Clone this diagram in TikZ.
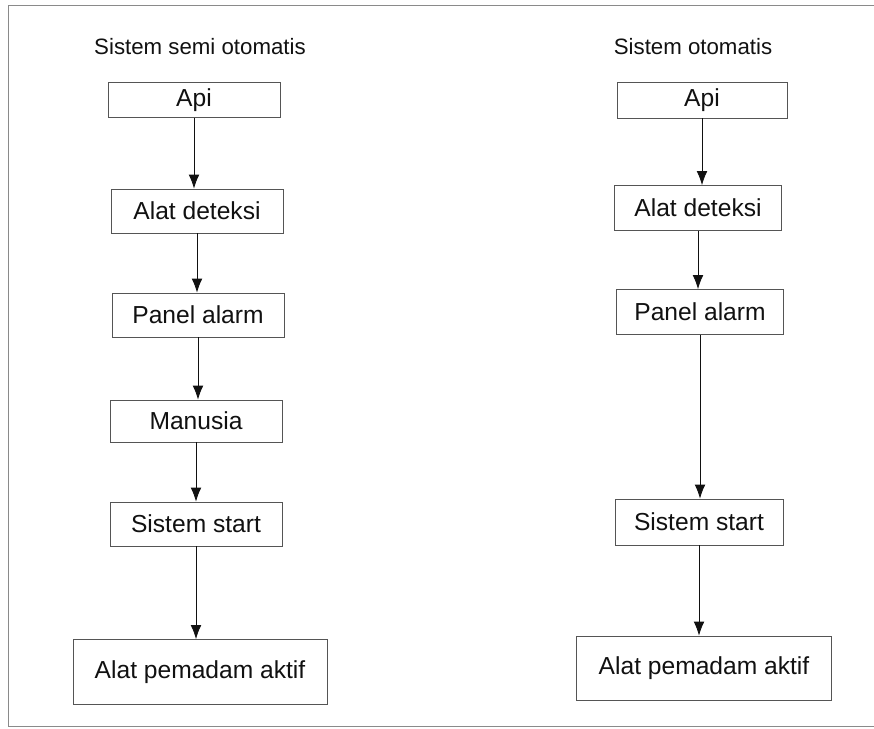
\documentclass[tikz,border=0pt]{standalone}
\usepackage{fontspec}
\setmainfont{Liberation Sans}
\usepackage{tikz}
\usetikzlibrary{arrows.meta,positioning}
\definecolor{Ink}{HTML}{111111}
\definecolor{Frame}{HTML}{8A8A8A}
\definecolor{BoxLine}{HTML}{555555}
\tikzset{
  stage/.style={draw=BoxLine,line width=.6pt,minimum width=5.16cm,minimum height=1.32cm,align=center,fill=white,text=Ink,font=\fontsize{21}{24}\selectfont},
  stagewide/.style={stage,minimum width=7.62cm,minimum height=1.95cm},
  heading/.style={text=Ink,font=\fontsize{19}{22}\selectfont},
  arrow/.style={-{Latex[length=4.2mm,width=3.2mm]},line width=.7pt,draw=Ink}
}
\begin{document}
\begin{tikzpicture}[x=1cm,y=1cm]
  \useasboundingbox (0,0) rectangle (26.22,21.84);
  % outer frame, open on the right
  \draw[Frame,line width=.5pt] (26.22,21.69)--(0.24,21.69)--(0.24,0.06)--(26.22,0.06);

  % semi-automatic chain
  \node[heading] (titleSemi) at (6.00,20.43) {Sistem semi otomatis};
  \node[stage,minimum height=1.05cm] (apiS) at (5.82,18.84) {Api};
  \node[stage] (detS) at (5.91,15.51) {Alat deteksi};
  \node[stage] (panelS) at (5.94,12.39) {Panel alarm};
  \node[stage,minimum height=1.26cm] (manS) at (5.88,9.21) {Manusia};
  \node[stage] (startS) at (5.88,6.12) {Sistem start};
  \node[stagewide] (pemS) at (6.00,1.68) {Alat pemadam aktif};
  \draw[arrow] (apiS.south) -- (apiS.south |- detS.north);
  \draw[arrow] (detS.south) -- (detS.south |- panelS.north);
  \draw[arrow] (panelS.south) -- (panelS.south |- manS.north);
  \draw[arrow] (manS.south) -- (manS.south |- startS.north);
  \draw[arrow] (startS.south) -- (startS.south |- pemS.north);

  % automatic chain
  \node[heading] (titleOto) at (20.79,20.43) {Sistem otomatis};
  \node[stage,minimum width=5.1cm,minimum height=1.08cm] (apiO) at (21.06,18.84) {Api};
  \node[stage,minimum width=5.0cm,minimum height=1.35cm] (detO) at (20.94,15.60) {Alat deteksi};
  \node[stage,minimum width=5.0cm,minimum height=1.35cm] (panelO) at (21.00,12.48) {Panel alarm};
  \node[stage,minimum width=5.04cm,minimum height=1.38cm] (startO) at (20.97,6.18) {Sistem start};
  \node[stagewide,minimum width=7.65cm,minimum height=1.92cm] (pemO) at (21.12,1.80) {Alat pemadam aktif};
  \draw[arrow] (apiO.south) -- (apiO.south |- detO.north);
  \draw[arrow] (detO.south) -- (detO.south |- panelO.north);
  \draw[arrow] (panelO.south) -- (panelO.south |- startO.north);
  \draw[arrow] (startO.south) -- (startO.south |- pemO.north);
\end{tikzpicture}
\end{document}
